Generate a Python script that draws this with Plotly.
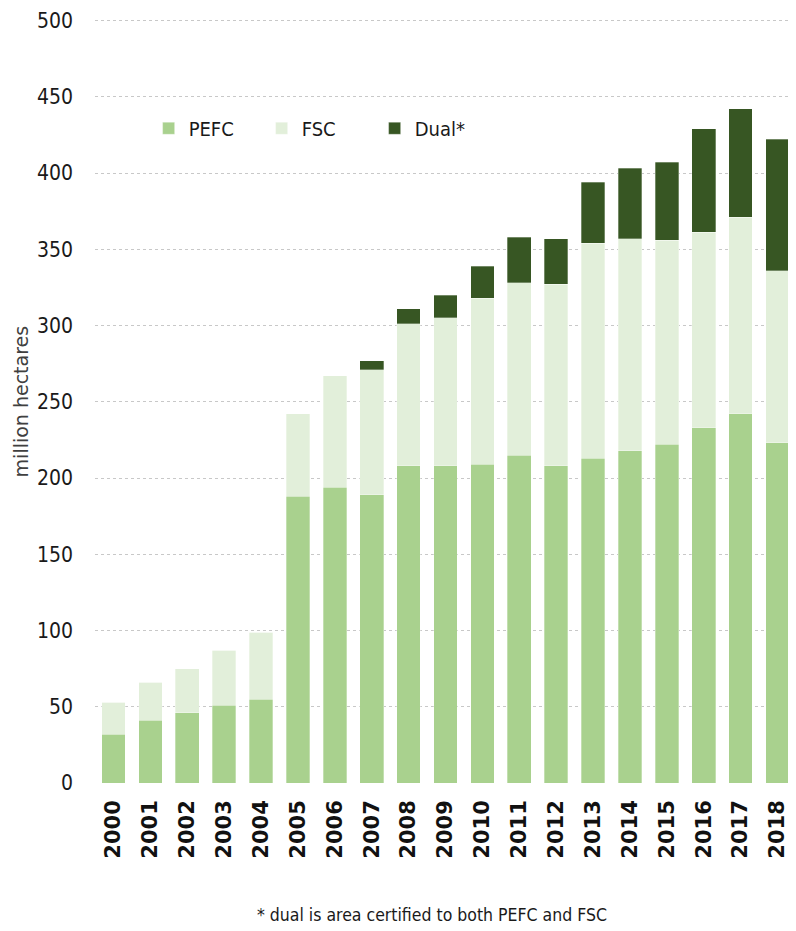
import plotly.graph_objects as go

# Certified forest area, million hectares
years = [str(y) for y in range(2000, 2019)]
pefc = [32, 41, 46, 51, 55, 188, 194, 189, 208, 208, 209, 215, 208, 213, 218, 222, 233, 242, 223]
fsc_top = [53, 66, 75, 87, 99, 242, 267, 271, 301, 305, 318, 328, 327, 354, 357, 356, 361, 371, 336]
dual_top = [53, 66, 75, 87, 99, 242, 267, 277, 311, 320, 339, 358, 357, 394, 403, 407, 429, 442, 422]

fsc = [t - p for t, p in zip(fsc_top, pefc)]
dual = [d - t for d, t in zip(dual_top, fsc_top)]

colors = {"PEFC": "#a9d18e", "FSC": "#e2efda", "Dual*": "#375623"}

fig = go.Figure()
for name, vals in [("PEFC", pefc), ("FSC", fsc), ("Dual*", dual)]:
    fig.add_trace(go.Bar(
        x=years, y=vals, name=name,
        marker=dict(color=colors[name], line=dict(color="rgba(255,255,255,0.6)", width=0.5)),
    ))

# page body has an 8px margin, so the figure is sized to fit inside the window
fig.update_layout(
    barmode="stack",
    bargap=0.36,
    width=788, height=923,
    margin=dict(l=87, r=0, t=11, b=148),
    plot_bgcolor="white",
    paper_bgcolor="white",
    font=dict(family="DejaVu Sans Condensed", color="#1a1a1a"),
    showlegend=True,
    legend=dict(
        orientation="h", x=0.0765, y=0.857, xanchor="left", yanchor="middle",
        font=dict(size=20, family="DejaVu Sans Condensed", color="#1a1a1a"),
        entrywidth=68, entrywidthmode="pixels",
        bgcolor="rgba(0,0,0,0)", traceorder="normal",
    ),
)

fig.update_yaxes(
    range=[0, 501], tickvals=list(range(0, 501, 50)),
    showgrid=True, gridcolor="#c8c8c8", griddash="dot", gridwidth=1.2,
    zeroline=False, showline=False,
    tickfont=dict(size=21, family="DejaVu Sans Condensed", color="#1a1a1a"),
    ticks="", ticklabelstandoff=21,
)
fig.update_xaxes(
    tickangle=-90,
    tickfont=dict(size=21, family="DejaVu Sans", color="#111111", weight="bold"),
    showline=False, ticks="", ticklabelstandoff=12,
)

fig.add_annotation(
    text="million hectares", textangle=-90,
    xref="paper", yref="paper", x=-0.105, y=0.5, xanchor="center", yanchor="middle",
    showarrow=False, font=dict(size=19, family="DejaVu Sans", color="#404040"),
)
fig.add_annotation(
    text="* dual is area certified to both PEFC and FSC",
    xref="paper", yref="paper", x=0.481, y=-0.173, xanchor="center", yanchor="middle",
    showarrow=False, font=dict(size=17.5, family="DejaVu Sans Condensed", color="#1a1a1a"),
)

fig.write_html("out.html")
